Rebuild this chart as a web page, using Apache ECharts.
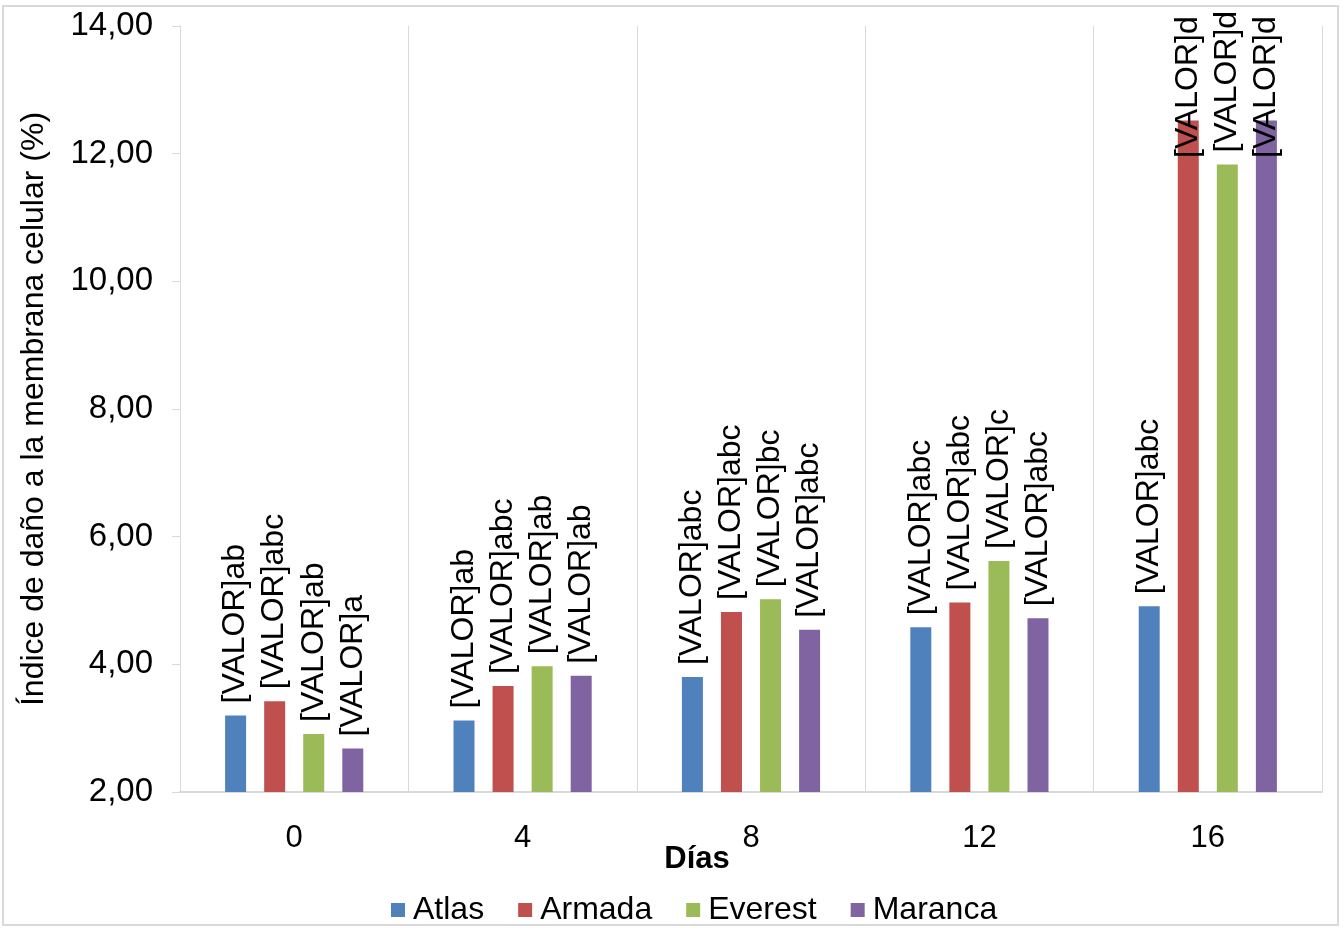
<!DOCTYPE html>
<html>
<head>
<meta charset="utf-8">
<script src="https://cdn.jsdelivr.net/npm/echarts@6/dist/echarts.min.js"></script>
<style>
html,body{margin:0;padding:0;background:#fff;}
#main{width:1344px;height:929px;}
</style>
</head>
<body>
<div id="main"></div>
<script>
// ---- data ----
const days = ['0', '4', '8', '12', '16'];
const seriesNames = ['Atlas', 'Armada', 'Everest', 'Maranca'];
const atlas   = [3.20, 3.12, 3.80, 4.58, 4.91];
const armada  = [3.42, 3.66, 4.82, 4.97, 12.52];
const everest = [2.91, 3.97, 5.02, 5.62, 11.83];
const maranca = [2.68, 3.82, 4.54, 4.72, 12.52];
const atlasLetters   = ['ab', 'ab', 'abc', 'abc', 'abc'];
const armadaLetters  = ['abc', 'abc', 'abc', 'abc', 'd'];
const everestLetters = ['ab', 'ab', 'bc', 'c', 'd'];
const marancaLetters = ['a', 'ab', 'abc', 'abc', 'd'];
const yTicks = [2, 4, 6, 8, 10, 12, 14];

const colors = ['#4F81BD', '#C0504D', '#9BBB59', '#8064A2'];
const FONT = "'Liberation Sans', Arial, sans-serif";

const values = [atlas, armada, everest, maranca];
const letters = [atlasLetters, armadaLetters, everestLetters, marancaLetters];

const chart = echarts.init(document.getElementById('main'), null, {renderer: 'canvas'});

const series = seriesNames.map((name, i) => ({
  name: name,
  type: 'bar',
  data: values[i],
  barWidth: 21,
  barGap: '86%',
  itemStyle: { color: colors[i] },
  label: {
    show: true,
    position: 'top',
    rotate: 90,
    align: 'left',
    verticalAlign: 'middle',
    distance: 12,
    color: '#000',
    fontFamily: FONT,
    fontSize: 32,
    formatter: p => '[VALOR]' + letters[i][p.dataIndex]
  },
  labelLayout: function (p) {
    if (p.labelRect.y < 4) {
      return { y: 158 };
    }
    return {};
  }
}));

const option = {
  animation: false,
  backgroundColor: '#fff',
  grid: { left: 180, right: 22, top: 26, bottom: 137, containLabel: false },
  graphic: [{
    type: 'rect',
    shape: { x: 3, y: 6, width: 1335, height: 919 },
    style: { fill: 'none', stroke: '#d9d9d9', lineWidth: 2 },
    z: -1
  }],
  legend: {
    left: 386,
    top: 889,
    itemWidth: 14,
    itemHeight: 14,
    itemGap: 34,
    icon: 'rect',
    data: seriesNames,
    textStyle: { fontFamily: FONT, fontSize: 32, color: '#000', padding: [0, 0, 0, 3] }
  },
  xAxis: {
    type: 'category',
    data: days,
    name: 'Días',
    nameLocation: 'middle',
    nameGap: 52,
    nameMoveOverlap: false,
    nameTextStyle: { fontFamily: FONT, fontSize: 31, fontWeight: 'bold', color: '#000', padding: [0, 108, 0, 0] },
    axisLine: { lineStyle: { color: '#d9d9d9', width: 2 } },
    axisTick: { show: false },
    axisLabel: { fontFamily: FONT, fontSize: 31, color: '#000', margin: 31 },
    splitLine: { show: true, lineStyle: { color: '#d9d9d9', width: 1 } }
  },
  yAxis: {
    type: 'value',
    min: yTicks[0],
    max: yTicks[yTicks.length - 1],
    interval: 2,
    name: 'Índice de daño a la membrana celular (%)',
    nameLocation: 'middle',
    nameGap: 130,
    nameRotate: 90,
    nameMoveOverlap: false,
    nameTextStyle: { fontFamily: FONT, fontSize: 32, color: '#000' },
    axisLine: { show: true, lineStyle: { color: '#d9d9d9', width: 1 } },
    axisTick: { show: true, length: 8, lineStyle: { color: '#d9d9d9' } },
    axisLabel: {
      fontFamily: FONT, fontSize: 33, color: '#000', margin: 27,
      formatter: v => v.toFixed(2).replace('.', ',')
    },
    splitLine: { show: false }
  },
  series: series
};

chart.setOption(option);
</script>
</body>
</html>
